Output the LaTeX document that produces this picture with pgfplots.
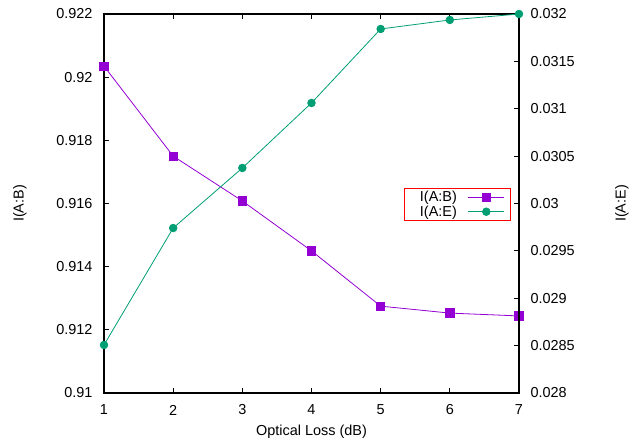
\documentclass[border=0pt]{standalone}
\usepackage{fontspec}
\setmainfont{Liberation Sans}
\usepackage{pgfplots}
\pgfplotsset{compat=1.18}

\definecolor{ab}{HTML}{9400D3}
\definecolor{ae}{HTML}{009E73}

\newcommand{\fs}{\fontsize{14.5}{16}\selectfont}

\pgfplotsset{
  base/.style={
    scale only axis,
    width=415bp, height=379bp,
    at={(0,0)}, anchor=south west,
    xmin=1, xmax=7,
    tick align=inside,
    major tick length=5bp,
    tick style={black, line width=0.8bp},
    scaled y ticks=false,
    /pgf/number format/assume math mode=true,
    font=\fs,
    tick label style={font=\fs},
    label style={font=\fs},
    axis line style={line width=1.4bp},
  }
}

\begin{document}
\begin{tikzpicture}
\path[use as bounding box] (-104bp,-48bp) rectangle (538bp,393bp);

\begin{axis}[
  base,
  ymin=0.91, ymax=0.922,
  xtick={1,2,3,4,5,6,7},
  xtick pos=both,
  ytick pos=left,
  ytick={0.91,0.912,0.914,0.916,0.918,0.92,0.922},
  yticklabels={0.91,0.912,0.914,0.916,0.918,0.92,0.922},
  xticklabel style={anchor=center, yshift=-17bp},
  yticklabel style={anchor=east, xshift=-8bp},
  xlabel={Optical Loss (dB)},
  ylabel={I(A:B)},
  xlabel style={at={(rel axis cs:0.5,0)}, anchor=center, yshift=-39bp},
  every axis y label/.style={at={(rel axis cs:0,0.5)}, anchor=center, xshift=-84bp, rotate=90, font=\fs},
]
\addplot[ab, line width=0.8bp, mark=square*, mark size=4.2bp, mark options={solid, fill=ab, draw=ab}]
  coordinates {(1,0.92035) (2,0.9175) (3,0.91608) (4,0.9145) (5,0.91275) (6,0.91253) (7,0.91244)};
\end{axis}

\begin{axis}[
  base,
  ymin=0.028, ymax=0.032,
  axis x line=none,
  axis y line*=right,
  ytick={0.028,0.0285,0.029,0.0295,0.03,0.0305,0.031,0.0315,0.032},
  yticklabels={0.028,0.0285,0.029,0.0295,0.03,0.0305,0.031,0.0315,0.032},
  yticklabel style={anchor=west, xshift=8bp},
  ylabel={I(A:E)},
  every axis y label/.style={at={(rel axis cs:1,0.5)}, anchor=center, xshift=103bp, rotate=90, font=\fs},
  legend style={at={(0.9807,0.5409)}, anchor=north east, draw=red, line width=0.6bp,
    inner xsep=6bp, inner ysep=1bp, row sep=-1.5bp, font=\fontsize{14.5}{14.5}\selectfont,
    /tikz/every odd column/.append style={column sep=9bp}},
  legend cell align=right,
  legend plot pos=right,
  legend image code/.code={%
    \draw[#1, mark=none] (0bp,0bp) -- (36bp,0bp);
    \draw[#1, only marks] plot coordinates {(18bp,0bp)};},
]
\addlegendimage{ab, line width=0.8bp, mark=square*, mark size=4.2bp, mark options={solid, fill=ab, draw=ab}}
\addlegendentry{\hspace*{8bp}I(A:B)}
\addplot[ae, line width=0.8bp, mark=*, mark size=3.8bp, mark options={solid, fill=ae, draw=ae}]
  coordinates {(1,0.028507) (2,0.029741) (3,0.030375) (4,0.031061) (5,0.031842) (6,0.031937) (7,0.032)};
\addlegendentry{I(A:E)}
\end{axis}
\end{tikzpicture}
\end{document}
